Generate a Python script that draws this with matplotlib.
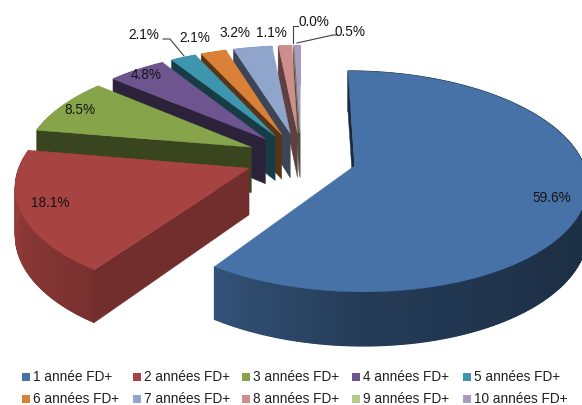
import numpy as np
import matplotlib
matplotlib.use('Agg')
import matplotlib.pyplot as plt
from matplotlib.colors import to_rgb

plt.rcParams['font.family'] = ['Liberation Sans', 'DejaVu Sans']

categories = ['1 année FD+', '2 années FD+', '3 années FD+', '4 années FD+', '5 années FD+',
              '6 années FD+', '7 années FD+', '8 années FD+', '9 années FD+', '10 années FD+']
shares = [59.6, 18.1, 8.5, 4.8, 2.1, 2.1, 3.2, 1.1, 0.0, 0.5]
colors = ['#4672A7', '#A74341', '#86A44A', '#6F5590', '#3D96AE',
          '#DA8137', '#8FA5CC', '#CE8E8D', '#B5CA88', '#A99BBD']
wall_shade = [0.38, 0.68, 0.42, 0.40, 0.40, 0.40, 0.42, 0.45, 0.42, 0.42]

label_xy = [(552, 198), (50, 203), (80, 110), (146, 75), (144, 35),
            (195, 38), (235, 33), (271, 33), (314, 22), (350, 32)]

# perspective settings, in pixels
CX, CY = 301, 158
FX, FY = 227, 106
PERSP = 0.14
DEPTH = 46
EXPLODE = 0.245


def project(x, y, z):
    w = 1 / (1 + PERSP * y)
    return CX + FX * x * w, CY - FY * y * w + DEPTH * z * w


def rim_shade(theta):
    # side of the disc gets darker towards the right
    return np.interp(theta, [90, 130, 180, 215, 280], [0.40, 0.42, 0.52, 0.72, 0.95])


def darker(col, k):
    return tuple(c * k for c in to_rgb(col))


def draw_slice(ax, start, end, color, shade):
    mid = np.radians((start + end) / 2)
    ox, oy = EXPLODE * np.sin(mid), EXPLODE * np.cos(mid)
    th = np.linspace(start, end, max(int(end - start) * 2, 2))
    rx, ry = ox + np.sin(np.radians(th)), oy + np.cos(np.radians(th))

    # outer side, one facet at a time
    for i in range(len(th) - 1):
        xs = [rx[i], rx[i + 1], rx[i + 1], rx[i]]
        ys = [ry[i], ry[i + 1], ry[i + 1], ry[i]]
        zs = [0, 0, 1, 1]
        px, py = project(np.array(xs), np.array(ys), np.array(zs))
        c = darker(color, rim_shade((th[i] + th[i + 1]) / 2))
        ax.fill(px, py, color=c, lw=0.9)

    # cut face
    xs = np.array([ox, rx[0], rx[0], ox])
    ys = np.array([oy, ry[0], ry[0], oy])
    px, py = project(xs, ys, np.array([0, 0, 1, 1]))
    ax.fill(px, py, color=darker(color, shade), lw=0.3)

    # top
    px, py = project(np.r_[ox, rx], np.r_[oy, ry], 0)
    ax.fill(px, py, color=color, lw=0.3)


fig = plt.figure(figsize=(5.82, 4.05), dpi=100)
ax = fig.add_axes([0, 0, 1, 1])
ax.set_xlim(0, 582)
ax.set_ylim(405, 0)
ax.axis('off')

edges = np.r_[0, np.cumsum(shares)] / sum(shares) * 360

# back slices first, the big one last
for i in range(len(shares) - 1, -1, -1):
    draw_slice(ax, edges[i], edges[i + 1], colors[i], wall_shade[i])

for v, (x, y) in zip(shares, label_xy):
    ax.text(x, y, f'{v:.1f}%', fontsize=9.8, ha='center', va='center', color='#141414')

# leader lines
line_c = '#404040'
ax.plot([163, 170, 184], [39, 39, 56], color=line_c, lw=0.8)
ax.plot([293, 293, 298], [43, 26, 26], color=line_c, lw=0.8)
ax.plot([297, 333, 337], [43, 35, 35], color=line_c, lw=0.8)

# legend, two rows of five
col_x = [22, 133, 242, 352, 463]
row_y = [377, 399]
for i, (name, c) in enumerate(zip(categories, colors)):
    x, y = col_x[i % 5], row_y[i // 5]
    ax.add_patch(plt.Rectangle((x, y - 4), 8, 8, color=c, lw=0))
    ax.text(x + 11, y, name, fontsize=9.8, ha='left', va='center', color='#202020')

fig.savefig('out.png', dpi=100)
